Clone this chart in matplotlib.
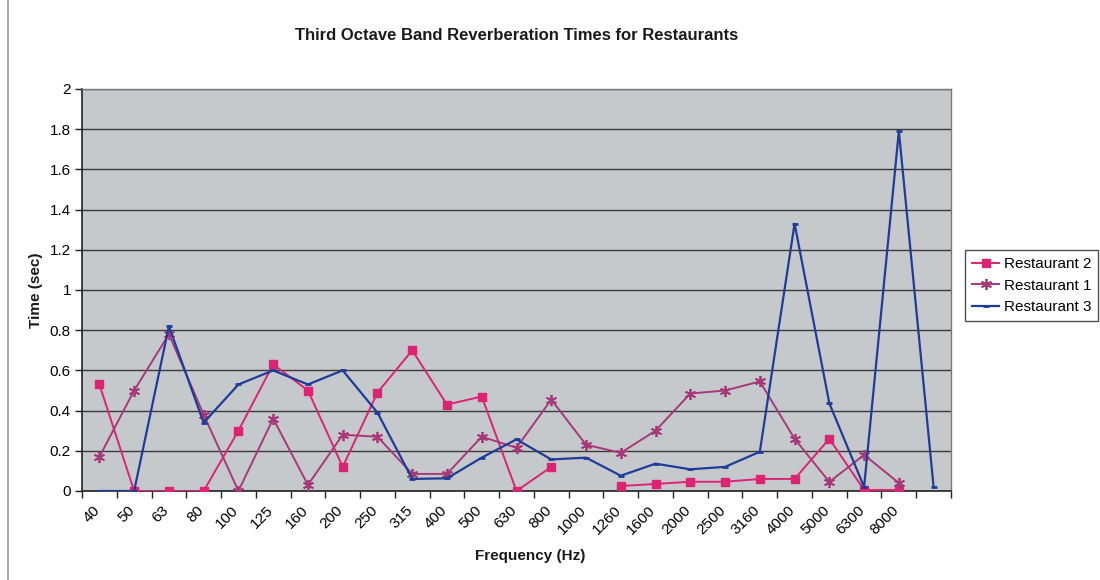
import numpy as np
import matplotlib
matplotlib.use("Agg")
import matplotlib.pyplot as plt
import matplotlib.transforms as mtransforms
from matplotlib.lines import Line2D

plt.rcParams['font.family'] = ['Liberation Sans', 'DejaVu Sans']

freq_labels = ["40", "50", "63", "80", "100", "125", "160", "200", "250", "315",
               "400", "500", "630", "800", "1000", "1260", "1600", "2000", "2500",
               "3160", "4000", "5000", "6300", "8000", ""]

nan = np.nan
restaurant2 = [0.53, 0.0, 0.0, 0.0, 0.30, 0.63, 0.50, 0.12, 0.49, 0.70,
               0.43, 0.47, 0.0, 0.12, nan, 0.025, 0.035, 0.046, 0.046, 0.06,
               0.06, 0.26, 0.005, 0.005, nan]
restaurant1 = [0.17, 0.50, 0.78, 0.38, 0.0, 0.36, 0.03, 0.28, 0.27, 0.085,
               0.085, 0.27, 0.215, 0.455, 0.23, 0.19, 0.30, 0.485, 0.50, 0.545,
               0.26, 0.045, 0.18, 0.04, nan]
restaurant3 = [0.0, 0.0, 0.82, 0.34, 0.53, 0.60, 0.53, 0.60, 0.39, 0.06,
               0.063, 0.166, 0.257, 0.157, 0.166, 0.076, 0.136, 0.108, 0.12, 0.195,
               1.33, 0.436, 0.02, 1.79, 0.02]

W, H = 1100, 580
fig = plt.figure(figsize=(W / 100, H / 100), dpi=100)
fig.patch.set_facecolor('white')

x0, x1, ytop, ybot = 82, 951, 89, 491
ax = fig.add_axes([x0 / W, 1 - ybot / H, (x1 - x0) / W, (ybot - ytop) / H])
ax.set_facecolor('#c6c9cc')

n = len(freq_labels)
x = np.arange(n)

c2 = '#dc2473'
c1 = '#a63a78'
c3 = '#1f3c98'

ax.plot(x, restaurant2, color=c2, lw=1.4, marker='s', ms=5.5, mfc=c2, mec=c2,
        label='Restaurant 2', zorder=3)
ax.plot(x, restaurant1, color=c1, lw=1.4, marker=(6, 2, 0), ms=8, mfc=c1, mec=c1,
        mew=1.3, label='Restaurant 1', zorder=3)
ax.plot(x, restaurant3, color=c3, lw=1.6, marker='_', ms=5, mec=c3, mew=2,
        label='Restaurant 3', zorder=3)

ax.set_xlim(-0.5, n - 0.5)
ax.set_ylim(0, 2)
yt = np.arange(0, 2.01, 0.2)
ax.set_yticks(yt)
ax.set_yticklabels([('%g' % v) for v in yt], fontsize=11)
ax.yaxis.grid(True, color='#3a3a3a', lw=1.0)
ax.set_axisbelow(True)

ax.set_xticks(np.arange(-0.5, n, 1.0))
ax.set_xticklabels([])
ax.set_xticks(x, minor=True)
ax.set_xticklabels(freq_labels, minor=True, rotation=45, ha='right', va='top',
                   rotation_mode='anchor', fontsize=11)
ax.tick_params(axis='x', which='major', direction='out', length=5, width=1, color='#222222')
ax.tick_params(axis='x', which='minor', length=0, pad=9)
ax.tick_params(axis='y', direction='out', length=5, width=1, color='#222222', pad=3)
off = mtransforms.ScaledTranslation(-7 / 100, 0, fig.dpi_scale_trans)
for lab in ax.get_xticklabels(minor=True):
    lab.set_transform(lab.get_transform() + off)

for s in ['left', 'bottom']:
    ax.spines[s].set_color('#222222')
    ax.spines[s].set_linewidth(1.2)
for s in ['top', 'right']:
    ax.spines[s].set_color('#7a7a7a')
    ax.spines[s].set_linewidth(1.0)

fig.text(517 / W, 1 - 35 / H, 'Third Octave Band Reverberation Times for Restaurants',
         ha='center', va='center', fontsize=12, fontweight='bold', color='#1a1a1a')
fig.text(530 / W, 1 - 556 / H, 'Frequency (Hz)', ha='center', va='center',
         fontsize=11, fontweight='bold', color='#1a1a1a')
fig.text(36 / W, 1 - 290 / H, 'Time (sec)', ha='center', va='center', rotation=90,
         fontsize=11, fontweight='bold', color='#1a1a1a')

leg = fig.legend(loc='upper left', bbox_to_anchor=(965 / W, 1 - 250 / H),
                 fontsize=11, frameon=True, fancybox=False, handlelength=1.8,
                 handletextpad=0.3, borderpad=0.45, borderaxespad=0,
                 labelspacing=0.5)
leg.get_frame().set_edgecolor('#222222')
leg.get_frame().set_linewidth(1.0)

fig.add_artist(Line2D([8 / W, 8 / W], [0, 1], color='#9a9a9a', lw=1.2))

fig.savefig('out.png', dpi=100)
